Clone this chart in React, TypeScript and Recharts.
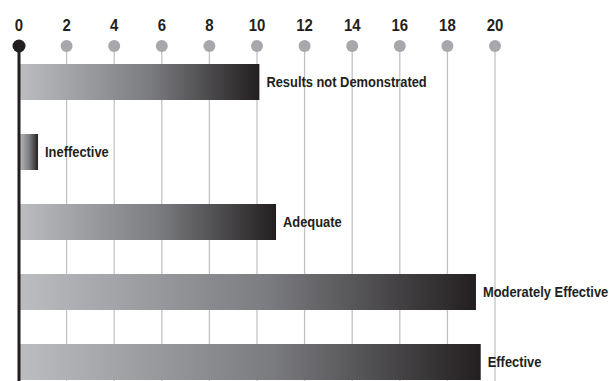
import { BarChart, Bar, XAxis, YAxis, CartesianGrid, ReferenceLine, LabelList } from "recharts";

const ratings = ["Results not Demonstrated", "Ineffective", "Adequate", "Moderately Effective", "Effective"];
const counts = [10.1, 0.8, 10.8, 19.2, 19.4];
const xTicks = [0, 2, 4, 6, 8, 10, 12, 14, 16, 18, 20];

const data = ratings.map((name, i) => ({ name, value: counts[i] }));

// no narrow font installed, so squeeze Liberation Sans horizontally
const FONT = "'Liberation Sans', Arial, sans-serif";
const DARK = "#231f20";

const TopTick = (props: any) => {
  const { x, payload } = props;
  const zero = payload.value === 0;
  return (
    <g>
      <text
        transform={`translate(${x},25) scale(0.88,1)`}
        textAnchor="middle"
        dominantBaseline="central"
        fontFamily={FONT}
        fontWeight="bold"
        fontSize={17}
        fill={DARK}
      >
        {payload.value}
      </text>
      <circle cx={x} cy={46} r={zero ? 6.5 : 6} fill={zero ? DARK : "#a7a8ac"} />
    </g>
  );
};

const BarLabel = (props: any) => {
  const { x, y, width, height, value } = props;
  return (
    <text
      transform={`translate(${x + width + 7},${y + height / 2}) scale(0.86,1)`}
      dominantBaseline="central"
      fontFamily={FONT}
      fontWeight="bold"
      fontSize={15}
      fill={DARK}
    >
      {value}
    </text>
  );
};

export default function App() {
  return (
    <div style={{ position: "absolute", left: 0, top: 0, width: 609, height: 381, overflow: "hidden", background: "#fff" }}>
      <BarChart
        width={609}
        height={400}
        data={data}
        layout="vertical"
        margin={{ top: 17, right: 114, left: 19, bottom: 3 }}
      >
        <defs>
          <linearGradient id="barGrad" x1="0" y1="0" x2="1" y2="0">
            <stop offset="0%" stopColor="#bcbdc1" />
            <stop offset="55%" stopColor="#7a7b7f" />
            <stop offset="100%" stopColor={DARK} />
          </linearGradient>
        </defs>
        <CartesianGrid horizontal={false} stroke="#c3c3c7" strokeWidth={1.3} />
        <XAxis
          type="number"
          orientation="top"
          domain={[0, 20]}
          ticks={xTicks}
          height={30}
          axisLine={false}
          tickLine={false}
          tick={<TopTick />}
          interval={0}
        />
        <YAxis type="category" dataKey="name" hide />
        <ReferenceLine x={0} stroke={DARK} strokeWidth={3} />
        <Bar dataKey="value" fill="url(#barGrad)" barSize={36} isAnimationActive={false}>
          <LabelList dataKey="name" content={<BarLabel />} />
        </Bar>
      </BarChart>
    </div>
  );
}
